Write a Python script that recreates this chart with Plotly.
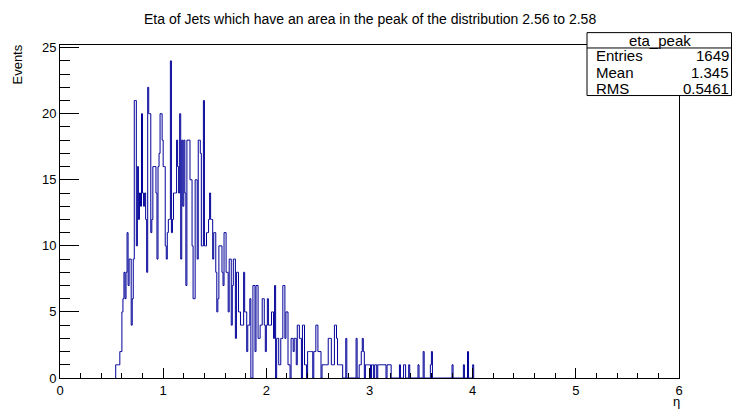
import numpy as np
import plotly.graph_objects as go

# Histogram "eta_peak": 0.01-wide bins, first listed bin starts at eta = 0.54
bin_width = 0.01
first_edge = 0.54
counts = [
    1, 1, 1, 1, 2, 2, 5, 6, 8, 6,
    8, 11, 7, 9, 9, 4, 6, 9, 21, 21,
    10, 16, 12, 14, 13, 20, 14, 13, 14, 12,
    8, 22, 20, 20, 11, 12, 16, 16, 16, 14,
    9, 16, 17, 20, 20, 18, 16, 16, 10, 9,
    11, 12, 12, 24, 11, 12, 14, 14, 14, 18,
    16, 14, 20, 9, 18, 13, 18, 14, 7, 18,
    18, 18, 15, 15, 10, 6, 6, 15, 15, 9,
    18, 18, 17, 10, 10, 21, 10, 10, 11, 11,
    12, 14, 12, 12, 9, 11, 11, 8, 5, 6,
    10, 10, 10, 8, 7, 11, 11, 8, 8, 5,
    9, 9, 4, 7, 9, 9, 3, 8, 8, 5,
    5, 4, 4, 4, 8, 5, 5, 2, 4, 4,
    6, 0, 0, 7, 7, 2, 7, 7, 3, 3,
    4, 4, 6, 6, 4, 2, 4, 6, 4, 4,
    4, 5, 5, 3, 7, 0, 3, 3, 1, 1,
    3, 3, 7, 7, 3, 5, 5, 1, 1, 0,
    3, 3, 2, 3, 3, 1, 4, 4, 3, 3,
    0, 4, 4, 1, 1, 0, 2, 2, 2, 2,
    2, 0, 2, 2, 4, 4, 2, 2, 2, 0,
    1, 1, 1, 1, 1, 1, 3, 3, 3, 1,
    1, 1, 4, 4, 3, 1, 1, 1, 1, 1,
    0, 0, 0, 3, 0, 0, 0, 0, 0, 0,
    0, 0, 0, 3, 0, 0, 1, 1, 2, 3,
    2, 0, 1, 1, 1, 1, 1, 0, 1, 1,
    0, 1, 1, 0, 1, 1, 1, 1, 1, 1,
    1, 1, 0, 1, 1, 1, 1, 0, 0, 0,
    0, 0, 0, 0, 0, 1, 0, 0, 0, 1,
    1, 0, 0, 0, 1, 0, 0, 0, 0, 0,
    0, 0, 0, 1, 0, 0, 0, 0, 2, 0,
    0, 0, 0, 0, 0, 1, 2, 0, 0, 0,
    0, 0, 0, 0, 0, 0, 0, 0, 0, 0,
    0, 0, 0, 0, 0, 0, 1, 0, 0, 0,
    0, 0, 0, 0, 0, 0, 0, 1, 0, 0,
    0, 2, 0, 0, 0, 0, 1,
]

title_text = "Eta of Jets which have an area in the peak of the distribution 2.56 to 2.58"
stats_name = "eta_peak"
stats_labels = ["Entries", "Mean", "RMS"]
stats_values = ["1649", "1.345", "0.5461"]
x_title = "η"
y_title = "Events"

counts = np.array(counts, dtype=float)
edges = first_edge + bin_width * np.arange(len(counts) + 1)
xs = np.concatenate([[edges[0]], edges[:-1], [edges[-1], edges[-1]]])
ys = np.concatenate([[0], counts, [counts[-1], 0]])

fig = go.Figure()
fig.add_trace(go.Scatter(x=xs, y=ys, mode="lines", line=dict(shape="hv", color="rgb(0,0,153)", width=1),
                         hoverinfo="skip"))

FONT = "Liberation Sans, Arial, Helvetica, sans-serif"
# plot frame in pixels: x 60..679, y 45..381
L, R, T, B = 60, 679, 45, 381
W, H = 732, 410

def px(x):
    return (x - L) / (R - L)

def py(y):
    return (B - y) / (B - T)

fig.update_layout(
    width=W, height=H,
    margin=dict(l=L, r=W - R, t=T, b=H - B, pad=0),
    plot_bgcolor="white", paper_bgcolor="white",
    showlegend=False,
    font=dict(family=FONT, size=14, color="black"),
    xaxis=dict(range=[0, 6], dtick=1, tick0=0, ticks="inside", ticklen=10, tickcolor="black",
               showline=True, linecolor="black", linewidth=1, mirror=True, showgrid=False,
               zeroline=False, layer="above traces", tickfont=dict(size=13), ticklabelstandoff=0,
               minor=dict(dtick=0.2, ticks="inside", ticklen=5, tickcolor="black", showgrid=False)),
    yaxis=dict(range=[0, 25.2], dtick=5, tick0=0, ticks="inside", ticklen=19, tickcolor="black",
               showline=True, linecolor="black", linewidth=1, mirror=True, showgrid=False,
               zeroline=False, layer="above traces", tickfont=dict(size=13),
               minor=dict(dtick=1, ticks="inside", ticklen=10, tickcolor="black", showgrid=False)),
)

shapes = [
    dict(type="rect", xref="paper", yref="paper", x0=px(587), x1=px(731.5), y0=py(96), y1=py(32.5),
         line=dict(color="black", width=1), fillcolor="white", layer="above"),
    dict(type="line", xref="paper", yref="paper", x0=px(587), x1=px(731.5), y0=py(48), y1=py(48),
         line=dict(color="black", width=1), layer="above"),
]
fig.update_layout(shapes=shapes)

ann = [
    dict(text=title_text, x=0.5, y=py(19), xref="paper", yref="paper", showarrow=False,
         xanchor="center", yanchor="middle", font=dict(size=14)),
    dict(text=y_title, x=px(17.5), y=py(43), xref="paper", yref="paper", showarrow=False,
         textangle=-90, xanchor="center", yanchor="top", font=dict(size=13)),
    dict(text=x_title, x=px(681), y=py(405), xref="paper", yref="paper", showarrow=False,
         xanchor="right", yanchor="middle", font=dict(size=13), borderpad=0),
    dict(text=stats_name, x=px(660), y=py(40), xref="paper", yref="paper", showarrow=False,
         xanchor="center", yanchor="middle", font=dict(size=15)),
]
row_y = [56, 73, 89]
for lab, val, yy in zip(stats_labels, stats_values, row_y):
    ann.append(dict(text=lab, x=px(594), y=py(yy), xref="paper", yref="paper", showarrow=False,
                    xanchor="left", yanchor="middle", font=dict(size=15)))
    ann.append(dict(text=val, x=px(731), y=py(yy), xref="paper", yref="paper", showarrow=False,
                    xanchor="right", yanchor="middle", font=dict(size=15)))
fig.update_layout(annotations=ann)

fig.write_html("out.html")
